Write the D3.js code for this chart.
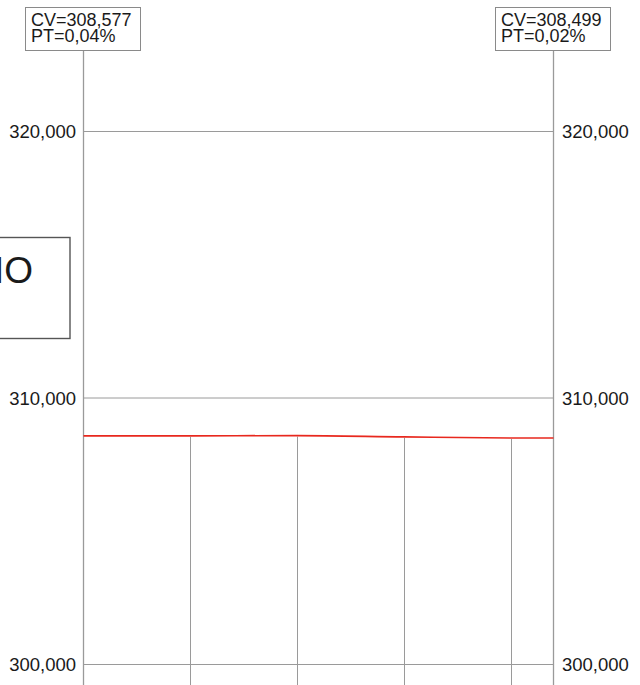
<!DOCTYPE html>
<html>
<head>
<meta charset="utf-8">
<title>Line Chart</title>
<script type="text/javascript" src="https://cdn.jsdelivr.net/npm/d3@7"></script>
<style type="text/css">
body { margin: 0; background: white; }
text { font-family: "Liberation Sans", Arial, sans-serif; fill: #1a1a1a; }
.grid line { stroke: #9a9a9a; stroke-width: 1px; }
.box { fill: white; stroke: #8a8a8a; stroke-width: 1px; }
</style>
</head>
<body>
<script>

  // data
  var steps  = [0, 1, 2, 3, 4, 4.4];
  var values = [308.577, 308.580, 308.590, 308.540, 308.500, 308.499];
  var yTicks = [300, 310, 320];
  var leftLabel  = ["CV=308,577", "PT=0,04%"];
  var rightLabel = ["CV=308,499", "PT=0,02%"];
  var sideText = "PRECIO";

  var width = 640,
  height = 685;

  var svg = d3.select("body").append("svg").attr("width", width).attr("height", height).style("background", "white");

  var locale = d3.formatLocale({decimal: ",", thousands: ".", grouping: [3], currency: ["", ""]});
  var fmt = locale.format(".3f");

  var x = d3.scaleLinear().domain([0, 4.4]).range([83.5, 553.5]);
  var y = d3.scaleLinear().domain([300, 320]).range([664.5, 131.5]);

  var grid = svg.append("g").attr("class", "grid");

  // vertical lines only below the curve
  grid.selectAll(".vl")
    .data(steps.slice(1, 5))
    .enter().append("line")
    .attr("class", "vl")
    .attr("x1", function(d){ return Math.round(x(d)) + 0.5; })
    .attr("x2", function(d){ return Math.round(x(d)) + 0.5; })
    .attr("y1", function(d, i){ return y(values[i + 1]) + 1; })
    .attr("y2", height);

  // horizontal gridlines
  grid.selectAll(".hl")
    .data(yTicks)
    .enter().append("line")
    .attr("class", "hl")
    .attr("x1", x(0))
    .attr("x2", x(4.4))
    .attr("y1", function(d){ return y(d); })
    .attr("y2", function(d){ return y(d); });

  // left and right axis lines
  grid.append("line").attr("x1", x(0)).attr("x2", x(0)).attr("y1", 51).attr("y2", height).style("stroke-width", "1.3px");
  grid.append("line").attr("x1", x(4.4)).attr("x2", x(4.4)).attr("y1", 51).attr("y2", height).style("stroke-width", "1.3px");

  // tick labels
  svg.selectAll(".ly")
    .data(yTicks)
    .enter().append("text")
    .attr("x", 76)
    .attr("y", function(d){ return y(d); })
    .attr("dy", "0.36em")
    .attr("text-anchor", "end")
    .style("font-size", "18.5px")
    .text(fmt);

  svg.selectAll(".ry")
    .data(yTicks)
    .enter().append("text")
    .attr("x", 562)
    .attr("y", function(d){ return y(d); })
    .attr("dy", "0.36em")
    .style("font-size", "18.5px")
    .text(fmt);

  // the line
  var liner = d3.line()
    .x(function(d, i){ return x(steps[i]); })
    .y(function(d){ return y(d); })
    .curve(d3.curveMonotoneX);

  svg.append("path")
    .datum(values)
    .attr("d", liner)
    .attr("stroke", "#e8281e")
    .attr("stroke-width", "1.6px")
    .attr("fill", "none");

  // value boxes at top
  function valueBox(x0, lines)
  {
    var g = svg.append("g");
    g.append("rect").attr("class", "box")
      .attr("x", x0 + 0.5).attr("y", 7.5).attr("width", 115).attr("height", 43);
    g.selectAll("text")
      .data(lines)
      .enter().append("text")
      .attr("x", x0 + 6)
      .attr("y", function(d, i){ return 26 + i * 16; })
      .style("font-size", "18px")
      .text(function(d){ return d; });
  }

  valueBox(25, leftLabel);
  valueBox(495, rightLabel);

  // side box cut at the left edge
  svg.append("rect")
    .attr("x", -10).attr("y", 237.5).attr("width", 80).attr("height", 101)
    .attr("fill", "white").attr("stroke", "#555").attr("stroke-width", "1.4px");

  svg.append("text")
    .attr("x", 33)
    .attr("y", 283)
    .attr("text-anchor", "end")
    .style("font-size", "37px")
    .text(sideText);

</script>
</body>
</html>
